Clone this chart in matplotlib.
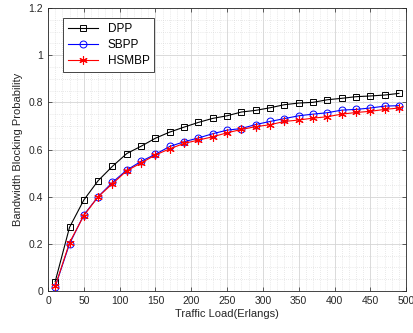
import numpy as np
import matplotlib
matplotlib.use("Agg")
import matplotlib.pyplot as plt
from matplotlib.ticker import MultipleLocator, FuncFormatter

# ---------------------------------------------------------------
# Bandwidth blocking probability vs traffic load (MATLAB style)
# ---------------------------------------------------------------
plt.rcParams["font.family"] = ["Liberation Sans", "DejaVu Sans"]

load = [10, 30, 50, 70, 90, 110, 130, 150, 170, 190, 210, 230, 250,
        270, 290, 310, 330, 350, 370, 390, 410, 430, 450, 470, 490]

dpp = [0.040, 0.270, 0.386, 0.468, 0.529, 0.583, 0.614, 0.648, 0.674, 0.695,
       0.715, 0.732, 0.743, 0.759, 0.766, 0.777, 0.790, 0.797, 0.800, 0.811,
       0.817, 0.824, 0.827, 0.831, 0.838]

sbpp = [0.018, 0.200, 0.323, 0.400, 0.461, 0.513, 0.550, 0.580, 0.613, 0.633,
        0.649, 0.667, 0.682, 0.689, 0.706, 0.719, 0.731, 0.743, 0.750, 0.756,
        0.767, 0.770, 0.776, 0.784, 0.786]

hsmbp = [0.020, 0.205, 0.320, 0.400, 0.455, 0.510, 0.543, 0.577, 0.603, 0.626,
         0.640, 0.654, 0.671, 0.685, 0.697, 0.705, 0.719, 0.725, 0.733, 0.739,
         0.750, 0.757, 0.762, 0.770, 0.776]

TEXT = "#262626"
GRID = "#d4d4d4"
ASTERISK = (6, 2, 0)   # MATLAB-like '*' marker

fig = plt.figure(figsize=(4.14, 3.33), dpi=100)
ax = fig.add_axes([0.116, 0.126, 0.865, 0.850])

ax.plot(load, dpp, color="black", linewidth=0.8, marker="s", markersize=4.5,
        markerfacecolor="none", markeredgewidth=0.7, label="DPP")
ax.plot(load, sbpp, color="#0000ff", linewidth=0.8, marker="o", markersize=5,
        markerfacecolor="none", markeredgewidth=0.7, label="SBPP")
ax.plot(load, hsmbp, color="#ff0000", linewidth=0.8, marker=ASTERISK, markersize=6,
        markeredgewidth=0.8, label="HSMBP")

ax.set_xlim(0, 500)
ax.set_ylim(0, 1.2)
ax.xaxis.set_major_locator(MultipleLocator(50))
ax.xaxis.set_minor_locator(MultipleLocator(10))
ax.yaxis.set_major_locator(MultipleLocator(0.2))
ax.yaxis.set_minor_locator(MultipleLocator(0.05))
ax.yaxis.set_major_formatter(FuncFormatter(lambda v, p: f"{v:g}"))

ax.grid(True, which="major", color=GRID, linewidth=0.6)
ax.grid(True, which="minor", color=GRID, linewidth=0.5, linestyle=(0, (1, 2)))
ax.set_axisbelow(True)

ax.tick_params(which="both", direction="in", top=True, right=True,
               colors=TEXT, labelsize=7.5)
ax.tick_params(which="major", length=3, width=0.5)
ax.tick_params(which="minor", length=0)
for side in ax.spines.values():
    side.set_color(TEXT)
    side.set_linewidth(0.6)

ax.set_xlabel("Traffic Load(Erlangs)", fontsize=8, color=TEXT, labelpad=2)
ax.set_ylabel("Bandwidth Blocking Probability", fontsize=8, color=TEXT, labelpad=4)

leg = ax.legend(loc="upper left", bbox_to_anchor=(0.025, 0.985), fontsize=8.5,
                fancybox=False, framealpha=1, edgecolor=TEXT,
                handlelength=2.6, borderpad=0.4, labelspacing=0.35)
leg.get_frame().set_linewidth(0.6)

fig.savefig("out.png", dpi=100)
